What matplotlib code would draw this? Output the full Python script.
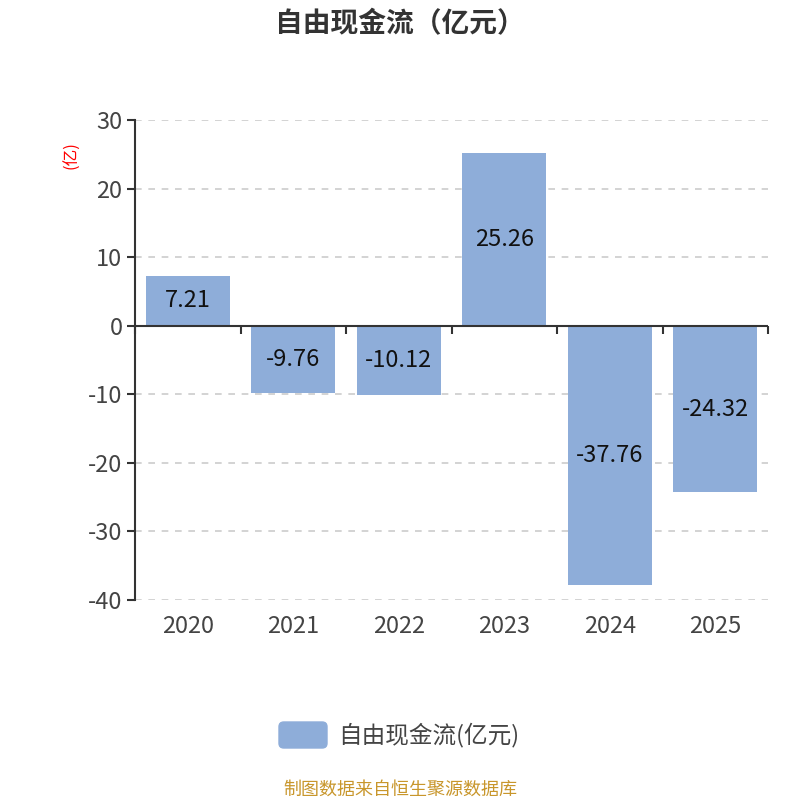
import numpy as np
import matplotlib.pyplot as plt
from matplotlib import markers
from matplotlib.patches import FancyBboxPatch

plt.rcParams['font.family'] = ['Noto Sans CJK SC', 'DejaVu Sans']

# data
years = ['2020', '2021', '2022', '2023', '2024', '2025']
fcf = [7.21, -9.76, -10.12, 25.26, -37.76, -24.32]
yticks = [30, 20, 10, 0, -10, -20, -30, -40]

bar_color = '#8eadd9'

fig = plt.figure(figsize=(8, 8), dpi=100)
ax = fig.add_axes([0.16875, 0.25, 0.79125, 0.60])

x = np.arange(len(years))
ax.bar(x, fcf, width=0.8, color=bar_color, zorder=3)

# value labels in the middle of each bar
for xi, v in zip(x, fcf):
    ax.text(xi, v / 2, f'{v:.2f}', ha='center', va='center',
            fontsize=17, color='#111111', zorder=4)

ax.set_xlim(-0.5, len(years) - 0.5)
ax.set_ylim(-40, 30)
ax.set_yticks(yticks)
ax.set_yticklabels([str(t) for t in yticks])

# dashed grid except at zero
for t in yticks:
    if t != 0:
        ax.axhline(t, color='#cccccc', linestyle=(0, (4, 4)), linewidth=1.2, zorder=1)

# zero line acts as x axis, with ticks at category boundaries
ax.axhline(0, color='#333333', linewidth=1.5, zorder=5)
bounds = np.arange(len(years) + 1) - 0.5
ax.plot(bounds, np.zeros_like(bounds), linestyle='none', marker=markers.TICKDOWN,
        markersize=6, markeredgewidth=1.5, color='#333333', zorder=5, clip_on=False)

for s in ['top', 'right', 'bottom']:
    ax.spines[s].set_visible(False)
ax.spines['left'].set_color('#333333')
ax.spines['left'].set_linewidth(1.5)

ax.tick_params(axis='y', length=6, width=1.5, color='#333333', labelsize=17,
               labelcolor='#444444', pad=3)
ax.set_xticks(x)
ax.set_xticklabels(years)
ax.tick_params(axis='x', length=0, labelsize=17, labelcolor='#444444', pad=11)

# title and unit label
fig.text(0.5, 0.97, '自由现金流（亿元）', ha='center', va='center',
         fontsize=20, fontweight='bold', color='#333333')
fig.text(0.09, 0.806, '(亿)', ha='center', va='center', rotation=90,
         fontsize=12, color='red')

# legend
fig.patches.append(FancyBboxPatch((279 / 800, 1 - 748 / 800), 48 / 800, 26 / 800,
                                  boxstyle='round,pad=0,rounding_size=0.006',
                                  transform=fig.transFigure, color=bar_color))
fig.text(338 / 800, 1 - 735 / 800, '自由现金流(亿元)', ha='left', va='center',
         fontsize=17, color='#444444')

# source footer
fig.text(0.5, 1 - 790 / 800, '制图数据来自恒生聚源数据库', ha='center', va='center',
         fontsize=13, color='#c8962b')

fig.savefig('out.png', dpi=100)
